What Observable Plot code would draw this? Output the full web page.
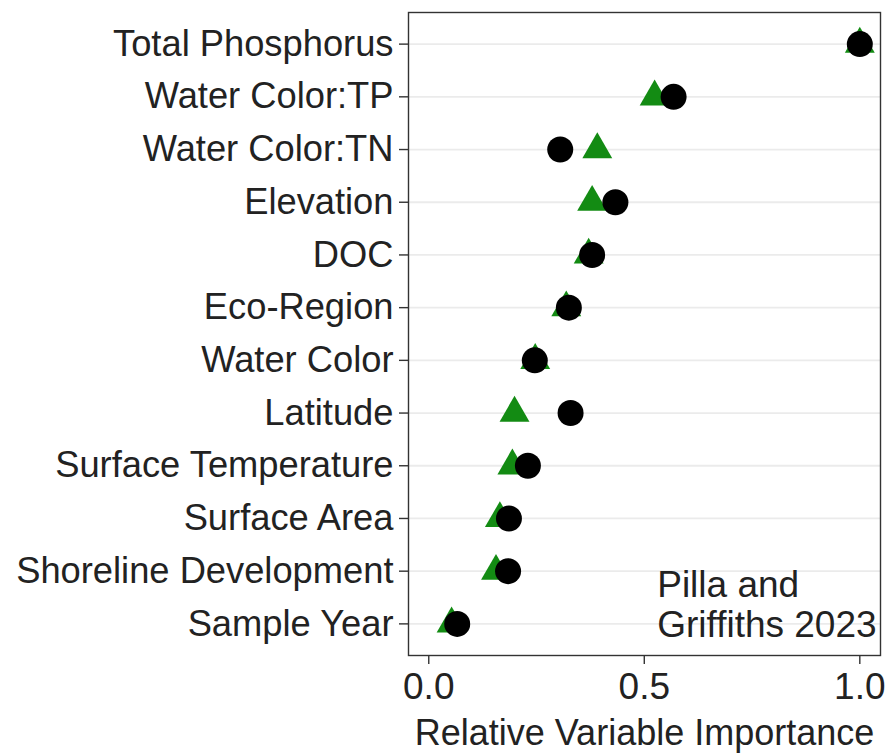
<!DOCTYPE html>
<html>
<head>
<meta charset="utf-8">
<script src="https://cdn.jsdelivr.net/npm/d3@7"></script>
<script src="https://cdn.jsdelivr.net/npm/@observablehq/plot@0.6"></script>
<style>
  html, body { margin: 0; padding: 0; background: #fff; }
</style>
</head>
<body>
<div id="chart"></div>
<script>
const variables = [
  "Total Phosphorus", "Water Color:TP", "Water Color:TN", "Elevation", "DOC",
  "Eco-Region", "Water Color", "Latitude", "Surface Temperature",
  "Surface Area", "Shoreline Development", "Sample Year"
];
const triangleValues = [1.0, 0.524, 0.391, 0.379, 0.371, 0.319, 0.247, 0.199, 0.194, 0.165, 0.156, 0.053];
const circleValues   = [1.0, 0.568, 0.305, 0.433, 0.379, 0.325, 0.246, 0.329, 0.230, 0.186, 0.184, 0.066];
const xTicks = [0, 0.5, 1.0];
const xLabel = ["Relative Variable Importance"];
const note = ["Pilla and\nGriffiths 2023"];

const tri = variables.map((v, i) => ({variable: v, value: triangleValues[i]}));
const circ = variables.map((v, i) => ({variable: v, value: circleValues[i]}));

const font = "'Liberation Sans', Arial, Helvetica, sans-serif";

const chart = Plot.plot({
  width: 889,
  height: 753,
  marginLeft: 408,
  marginRight: 9,
  marginTop: 12,
  marginBottom: 98,
  style: {fontFamily: font, fontSize: "36px", color: "#222", background: "#fff"},
  x: {domain: [-0.047, 1.048]},
  y: {type: "point", domain: variables, padding: 0.6, round: false},
  marks: [
    Plot.ruleY(variables, {stroke: "#ebebeb", strokeWidth: 1.8}),
    Plot.dot(tri, {x: "value", y: "variable", symbol: "triangle", r: 11.1, fill: "#138b13", stroke: "none"}),
    Plot.dot(circ, {x: "value", y: "variable", symbol: "circle", r: 13, fill: "#000", stroke: "none"}),
    Plot.text(note, {x: 0.53, frameAnchor: "bottom", textAnchor: "start", lineAnchor: "bottom", dy: -19, lineHeight: 1.08, fontSize: 37, fill: "#222"}),
    Plot.frame({stroke: "#333", strokeWidth: 1.4}),
    Plot.axisY({tickSize: 9, tickPadding: 6, label: null, fontSize: 36.3, stroke: "#333", strokeWidth: 1.4}),
    Plot.axisX({ticks: xTicks, tickFormat: d3.format(".1f"), tickSize: 9, tickPadding: 8, label: null, fontSize: 37, stroke: "#333", strokeWidth: 1.4}),
    Plot.text(xLabel, {frameAnchor: "bottom", lineAnchor: "middle", dy: 77.5, fontSize: 36, fill: "#222"})
  ]
});
document.getElementById("chart").appendChild(chart);
</script>
</body>
</html>
